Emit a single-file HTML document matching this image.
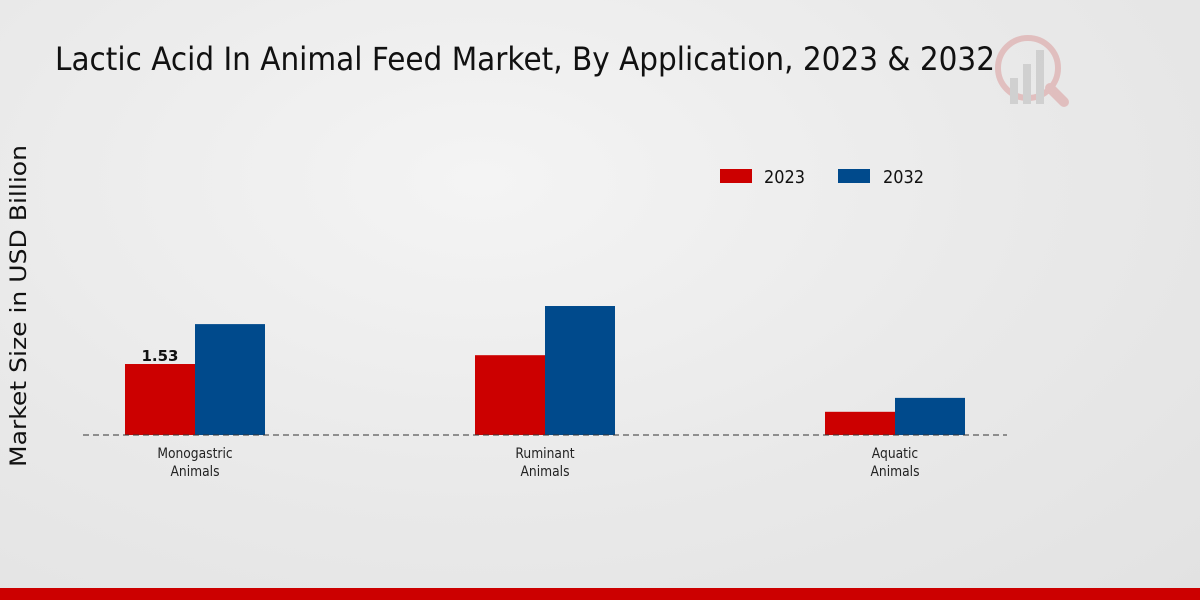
<!DOCTYPE html>
<html><head><meta charset="utf-8">
<style>
html,body{margin:0;padding:0;width:1200px;height:600px;overflow:hidden}
body{background:radial-gradient(ellipse at 40% 30%,#f4f4f4 0%,#e9e9e9 55%,#e2e2e2 100%);font-family:"DejaVu Sans","Liberation Sans",sans-serif}
</style></head><body>
<svg id="chart" width="1200" height="600" xmlns="http://www.w3.org/2000/svg" style="position:absolute;left:0;top:0">
<text x="55" y="70" font-size="32" fill="#111" textLength="940" lengthAdjust="spacingAndGlyphs" font-family="DejaVu Sans, sans-serif">Lactic Acid In Animal Feed Market, By Application, 2023 &amp; 2032</text>
<g opacity="0.25">
<circle cx="1028" cy="68" r="30" fill="none" stroke="#c44" stroke-width="6"/>
<line x1="1050" y1="88" x2="1064" y2="102" stroke="#c44" stroke-width="10" stroke-linecap="round"/>
<rect x="1010" y="78" width="8" height="26" fill="#888"/><rect x="1023" y="64" width="8" height="40" fill="#888"/><rect x="1036" y="50" width="8" height="54" fill="#888"/>
</g>
<text transform="translate(26,306) rotate(-90)" text-anchor="middle" font-size="22" fill="#111" textLength="322" lengthAdjust="spacingAndGlyphs">Market Size in USD Billion</text>
<g>
<rect x="720" y="169" width="32" height="14" fill="#cc0000"/>
<text x="764" y="183" font-size="18" fill="#111" textLength="41" lengthAdjust="spacingAndGlyphs">2023</text>
<rect x="838" y="169" width="32" height="14" fill="#004a8c"/>
<text x="883" y="183" font-size="18" fill="#111" textLength="41" lengthAdjust="spacingAndGlyphs">2032</text>
</g>
<g id="bars"></g>
<line x1="83" y1="435" x2="1007" y2="435" stroke="#333" stroke-width="1" stroke-dasharray="6,4"/>
<rect x="0" y="588" width="1200" height="12" fill="#cc0000"/>
</svg>
<script>
const categories=["Monogastric|Animals","Ruminant|Animals","Aquatic|Animals"];
const values2023=[1.53,1.72,0.50];
const values2032=[2.39,2.78,0.80];
const labels2023=["1.53","",""];
const NS="http://www.w3.org/2000/svg";
const g=document.getElementById('bars');
const baseY=435, scale=46.4, x0=195, step=350, bw=70;
function xc(i){return x0+i*step;}
function yv(v){return baseY-v*scale;}
function mk(tag,attrs){const e=document.createElementNS(NS,tag);for(const k in attrs)e.setAttribute(k,attrs[k]);return e;}
categories.forEach((c,i)=>{
  const r1=mk('rect',{x:xc(i)-bw,y:yv(values2023[i]),width:bw,height:values2023[i]*scale,fill:'#cc0000'});
  
  
  g.appendChild(r1);
  const r2=mk('rect',{x:xc(i),y:yv(values2032[i]),width:bw,height:values2032[i]*scale,fill:'#004a8c'});
  
  
  g.appendChild(r2);
  if(labels2023[i]){
    const t=mk('text',{x:xc(i)-bw/2,y:yv(values2023[i])-3,'text-anchor':'middle','font-size':15,'font-weight':'bold',fill:'#111'});
    t.textContent=labels2023[i];
    
    
    g.appendChild(t);
  }
  c.split('|').forEach((line,j)=>{
    const t=mk('text',{x:xc(i),y:458+j*18,'text-anchor':'middle','font-size':14,fill:'#222',transform:'translate('+xc(i)+',0) scale(0.88,1) translate('+(-xc(i))+',0)'});
    t.textContent=line;
    
    
    g.appendChild(t);
  });
});
</script>
</body></html>
